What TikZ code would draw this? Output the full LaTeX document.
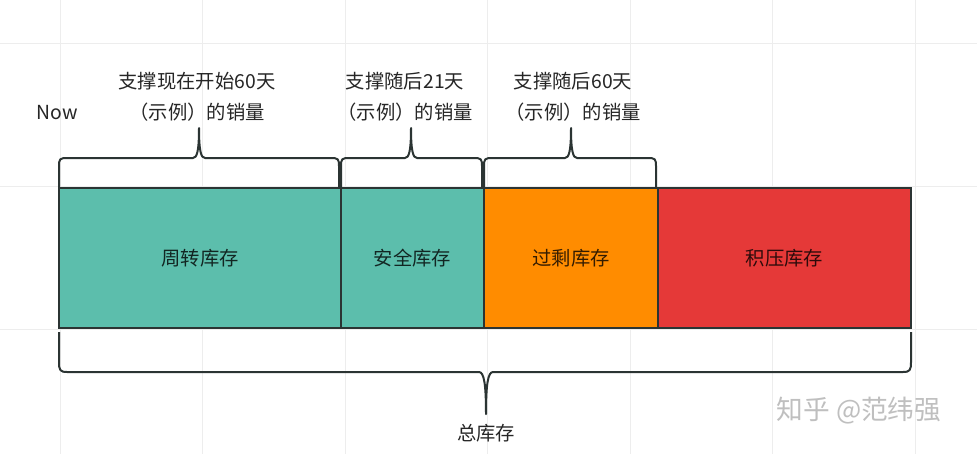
\documentclass[tikz,border=0pt]{standalone}
\usepackage{fontspec}
\setmainfont{Noto Sans CJK SC}

\definecolor{turnover}{HTML}{5CBEAC}
\definecolor{excess}{HTML}{FF8C00}
\definecolor{overstock}{HTML}{E53938}
\definecolor{edge}{HTML}{2B3433}
\definecolor{gridgray}{HTML}{EDEDED}

\begin{document}
\begin{tikzpicture}[x=0.75pt,y=-0.75pt,
  stockbox/.style={draw=edge, line width=1.9pt, minimum height=105pt, inner sep=0pt,
    outer sep=0pt, font=\fontsize{14.5pt}{17pt}\selectfont, text=black, text opacity=0.8},
  bracepath/.style={draw=edge, line width=1.5pt, line join=round},
  spanlabel/.style={align=center, font=\fontsize{14.5pt}{23pt}\selectfont, text=black!85},
  gridline/.style={draw=gridgray, line width=0.75pt}]

  \useasboundingbox (0,0) rectangle (977,454);
  \fill[white] (0,0) rectangle (977,454);

  \foreach \gx in {0,...,6}
    \draw[gridline] ({60+142.5*\gx},0) -- ({60+142.5*\gx},454);
  \foreach \gy in {43,186,329}
    \draw[gridline] (0,\gy) -- (977,\gy);

  \foreach \name/\xa/\xb/\col/\txt in {zhouzhuan/59/341/turnover/周转库存,
      anquan/341/484/turnover/安全库存,
      guosheng/484/658/excess/过剩库存,
      jiya/658/911/overstock/积压库存}
    \node[stockbox, fill=\col, minimum width={(\xb-\xa)*0.75pt}] (\name) at ({(\xa+\xb)/2},258) {\txt};

  % braces over the boxes
  \foreach \xa/\xm/\xb in {59/199/339, 341/411/482, 484/571/656}
    \draw[bracepath] (\xa,187) -- (\xa,166)
      .. controls (\xa,159) and ({\xa+1},158) .. ({\xa+8},158) -- ({\xm-6},158)
      .. controls ({\xm-2},158) and (\xm,151) .. (\xm,128)
      .. controls (\xm,151) and ({\xm+2},158) .. ({\xm+6},158) -- ({\xb-8},158)
      .. controls ({\xb-1},158) and (\xb,159) .. (\xb,166) -- (\xb,187);

  \draw[bracepath] (59,332) -- (59,362)
    .. controls (59,370) and (60,372) .. (67,372) -- (479,372)
    .. controls (484,372) and (486,384) .. (486,414)
    .. controls (486,384) and (488,372) .. (493,372) -- (903,372)
    .. controls (910,372) and (911,370) .. (911,362) -- (911,332);

  \node[spanlabel] (cyclespan) at (197,97) {支撑现在开始60天\\（示例）的销量};
  \node[spanlabel] (safetyspan) at (405,97) {支撑随后21天\\（示例）的销量};
  \node[spanlabel] (excessspan) at (573,97) {支撑随后60天\\（示例）的销量};
  \node[spanlabel] (now) at (57,113) {Now};
  \node[spanlabel] (total) at (486,433) {总库存};
  \node[font=\fontsize{20pt}{24pt}\selectfont, text=gray!50] (mark) at (859,411) {知乎 @范纬强};

\end{tikzpicture}
\end{document}
